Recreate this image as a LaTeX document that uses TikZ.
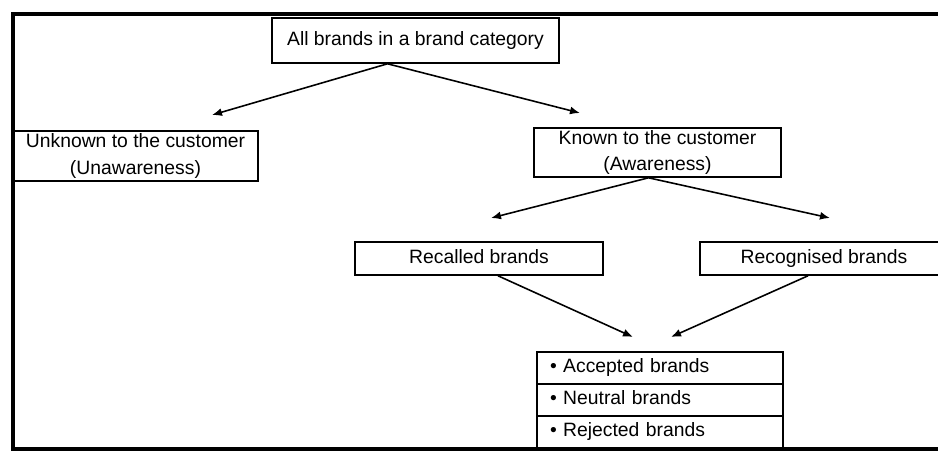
\documentclass[tikz,border=0pt]{standalone}
\usepackage{fontspec}
\setmainfont{Liberation Sans}
\usetikzlibrary{arrows.meta,calc,positioning}

\begin{document}
\begin{tikzpicture}[
    x=0.02cm, y=-0.02cm,
    node distance=-0.9pt,
    brandbox/.style={
      draw,
      line width=0.9pt,
      inner sep=0pt,
      align=center,
      font=\fontsize{11}{15}\selectfont
    },
    brandline/.style={
      brandbox,
      text height=8pt,
      text depth=2.5pt
    },
    listrow/.style={
      draw,
      line width=0.9pt,
      minimum height=0.64cm,
      text width=4.4cm,
      text height=8pt,
      text depth=2.5pt,
      inner xsep=0.26cm,
      inner ysep=0pt,
      align=left,
      font=\fontsize{11}{13}\selectfont
    },
    arrow/.style={-{Latex[length=2mm,width=1.6mm]},line width=0.9pt}
  ]
    \useasboundingbox (0,0) rectangle (938,451);
    % outer frame
    \draw[line width=1.9pt] (938,14) -- (13,14) -- (13,449) -- (938,449);
    \node[brandline,minimum width=5.74cm,minimum height=0.9cm] (allbrands) at (415.5,40.5) {All brands in a brand category};
    \node[brandbox,minimum width=4.9cm,minimum height=1cm] (unknown) at (135.5,156) {Unknown to the customer\\(Unawareness)};
    \node[brandbox,minimum width=4.94cm,minimum height=0.98cm] (known) at (657.5,152.5) {Known to the customer\\(Awareness)};
    \node[brandline,minimum width=4.96cm,minimum height=0.66cm] (recalled) at (479,258.5) {Recalled brands};
    \node[brandline,minimum width=4.96cm,minimum height=0.66cm] (recognised) at (824,258.5) {Recognised brands};
    \node[listrow] (accepted) at (660,368) {\textbullet\ Accepted brands};
    \node[listrow,below=of accepted] (neutral) {\textbullet\ Neutral brands};
    \node[listrow,below=of neutral] (rejected) {\textbullet\ Rejected brands};
    % arrow tips stop short of the boxes
    \coordinate (tipunknown) at (212,115);
    \coordinate (tipknown) at (580,113);
    \coordinate (tiprecalled) at (491,218);
    \coordinate (tiprecognised) at (830,218);
    \coordinate (tipleft) at (633,337);
    \coordinate (tipright) at (671,337);
    \draw[arrow] ($(allbrands.south)+(-28,0)$) -- (tipunknown);
    \draw[arrow] ($(allbrands.south)+(-28,0)$) -- (tipknown);
    \draw[arrow] ($(known.south)+(-9,0)$) -- (tiprecalled);
    \draw[arrow] ($(known.south)+(-9,0)$) -- (tiprecognised);
    \draw[arrow] ($(recalled.south)+(19,0)$) -- (tipleft);
    \draw[arrow] ($(recognised.south)+(-16,0)$) -- (tipright);
  \end{tikzpicture}
\end{document}
